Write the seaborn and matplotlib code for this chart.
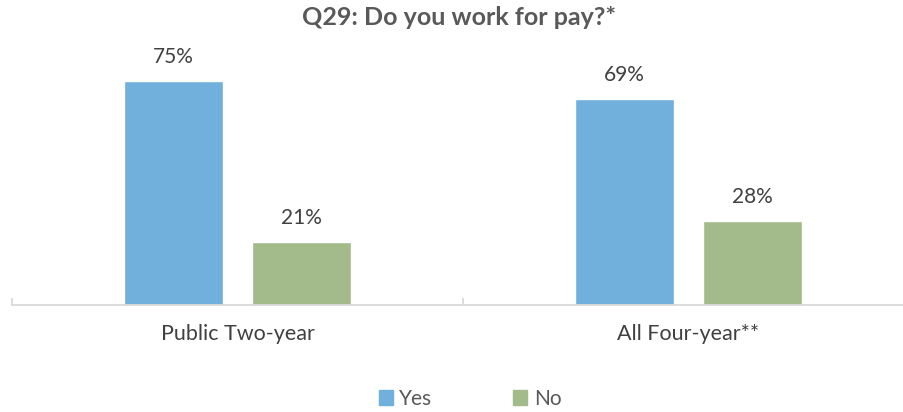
import matplotlib
matplotlib.use("Agg")
import matplotlib.pyplot as plt
import seaborn as sns
import pandas as pd

# data
groups = ["Public Two-year", "All Four-year**"]
responses = ["Yes", "No"]
yes_values = [75, 69]
no_values = [21, 28]
colors = ["#71AFDD", "#A3BA8B"]

df = pd.DataFrame({
    "group": groups * 2,
    "response": ["Yes"] * len(groups) + ["No"] * len(groups),
    "value": yes_values + no_values,
})

sns.set_style("white")
plt.rcParams["font.family"] = ["Lato", "DejaVu Sans"]

fig = plt.figure(figsize=(9.04, 4.12), dpi=100)
ax = fig.add_axes([12 / 904, 107 / 412, 902 / 904, 269 / 412])

sns.barplot(data=df, x="group", y="value", hue="response", hue_order=responses,
            palette=colors, width=0.568, gap=0.22, saturation=1, ax=ax, legend=False)

for cont in ax.containers:
    ax.bar_label(cont, labels=[f"{v:.0f}%" for v in cont.datavalues],
                 padding=10, fontsize=15, color="#404040")

ax.set_xlim(-0.5, 1.5)
ax.set_ylim(0, 90)
ax.set_xlabel("")
ax.set_ylabel("")
ax.set_yticks([])
for s in ["top", "right", "left"]:
    ax.spines[s].set_visible(False)
ax.spines["bottom"].set_color("#D9D9D9")
ax.spines["bottom"].set_linewidth(1.3)

ax.set_xticks([0, 1])
ax.set_xticklabels(groups, fontsize=15.5, color="#404040")
ax.tick_params(axis="x", which="major", bottom=True, length=0, pad=14)
ax.set_xticks([-0.5, 0.5, 1.5], minor=True)
ax.tick_params(axis="x", which="minor", bottom=True, direction="in", length=5,
               width=1.3, color="#D9D9D9")

fig.text(0.508, 0.958, "Q29: Do you work for pay?*", ha="center", va="center",
         fontsize=18, fontweight="bold", color="#595959")

handles = [plt.Rectangle((0, 0), 1, 1, color=c) for c in colors]
fig.legend(handles, responses, loc="center", bbox_to_anchor=(0.52, 0.032),
           ncol=2, frameon=False, fontsize=15, labelcolor="#595959",
           handlelength=0.67, handleheight=0.67, handletextpad=0.3,
           columnspacing=3.9)

fig.savefig("out.png", dpi=100)
